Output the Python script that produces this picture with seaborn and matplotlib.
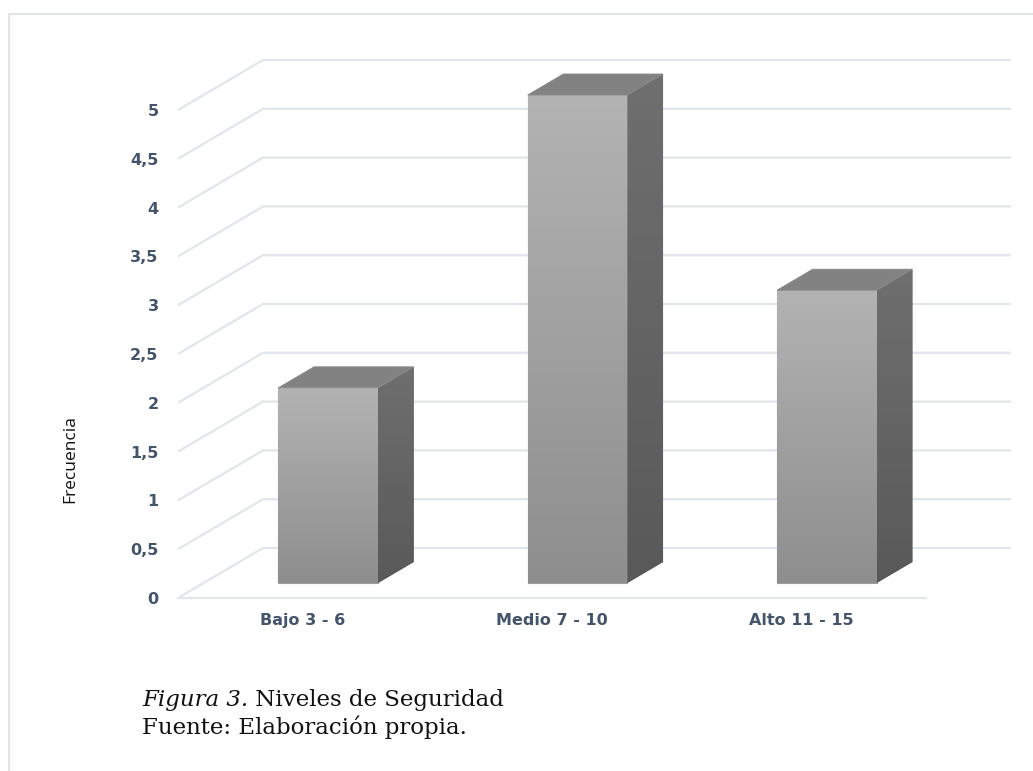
import numpy as np
import matplotlib
matplotlib.use("Agg")
import matplotlib.pyplot as plt
from matplotlib.patches import Polygon, Rectangle
from matplotlib.colors import LinearSegmentedColormap
import seaborn as sns

# Data
categories = ["Bajo 3 - 6", "Medio 7 - 10", "Alto 11 - 15"]
frequencies = [2, 5, 3]
y_ticks = [0, 0.5, 1, 1.5, 2, 2.5, 3, 3.5, 4, 4.5, 5]
y_tick_labels = ["0", "0,5", "1", "1,5", "2", "2,5", "3", "3,5", "4", "4,5", "5"]
y_label = "Frecuencia"
caption_italic = "Figura 3."
caption_rest = " Niveles de Seguridad"
caption_source = "Fuente: Elaboración propia."

sns.set_theme(style="white")
plt.rcParams["font.family"] = ["DejaVu Sans"]

W, H, DPI = 1033, 771, 100
fig = plt.figure(figsize=(W / DPI, H / DPI), dpi=DPI)
fig.patch.set_facecolor("white")

# Axes = front plane of the 3D floor; the upper headroom keeps bar tops unclipped
XLIM = (-0.5, len(categories) - 0.5)
YLIM = (0, 5.6)
unit_px = 97.6
ax = fig.add_axes([178 / W, (H - 598) / H, 748 / W, YLIM[1] * unit_px / H])
ax.set_facecolor("none")

# depth projection (pixels for full depth)
DEPTH_DX, DEPTH_DY = 85.0, 50.0
BAR_FRONT, BAR_BACK = 0.30, 0.72

bbox = ax.get_position()
px_x = bbox.width * W / (XLIM[1] - XLIM[0])
px_y = bbox.height * H / (YLIM[1] - YLIM[0])


def shift(x, y, depth):
    return x + depth * DEPTH_DX / px_x, y + depth * DEPTH_DY / px_y


grid_color = "#e1e5ec"
text_color = "#44546a"

# walls / floor gridlines
for v in y_ticks:
    xa, ya = XLIM[0], v
    xb, yb = shift(XLIM[0], v, 1.0)
    xc, yc = shift(XLIM[1], v, 1.0)
    ax.plot([xa, xb, xc], [ya, yb, yc], color=grid_color, lw=1.6,
            clip_on=False, zorder=1, solid_capstyle="butt")
ax.plot([XLIM[0], XLIM[1]], [0, 0], color=grid_color, lw=1.6,
        clip_on=False, zorder=1)

# bars (front faces) via seaborn
sns.barplot(x=categories, y=frequencies, ax=ax, width=0.4,
            color="#a0a0a0", saturation=1, zorder=3)

grad = np.linspace(0, 1, 256).reshape(-1, 1)
front_cmap = LinearSegmentedColormap.from_list("front", ["#8e8e8e", "#b3b3b3"])
side_cmap = LinearSegmentedColormap.from_list("side", ["#595959", "#6f6f6f"])

for patch in list(ax.patches):
    x0 = patch.get_x()
    w = patch.get_width()
    h = patch.get_height()
    nx, ny = shift(x0, 0, BAR_FRONT)
    patch.set_x(nx)
    patch.set_y(ny)
    patch.set_clip_on(False)
    patch.set_edgecolor("#9c9c9c")
    patch.set_linewidth(0.8)

    im = ax.imshow(grad, cmap=front_cmap, aspect="auto", origin="lower",
                   extent=(nx, nx + w, ny, ny + h), zorder=3.5,
                   interpolation="bilinear")
    im.set_clip_path(patch)

    # side face
    s = [shift(x0 + w, 0, BAR_FRONT), shift(x0 + w, 0, BAR_BACK),
         shift(x0 + w, h, BAR_BACK), shift(x0 + w, h, BAR_FRONT)]
    side = Polygon(s, closed=True, facecolor="#666666", edgecolor="none",
                   clip_on=False, zorder=3)
    ax.add_patch(side)
    sx = [p[0] for p in s]
    sy = [p[1] for p in s]
    im2 = ax.imshow(grad, cmap=side_cmap, aspect="auto", origin="lower",
                    extent=(min(sx), max(sx), min(sy), max(sy)), zorder=3.5,
                    interpolation="bilinear")
    im2.set_clip_path(side)

    # top face
    t = [shift(x0, h, BAR_FRONT), shift(x0 + w, h, BAR_FRONT),
         shift(x0 + w, h, BAR_BACK), shift(x0, h, BAR_BACK)]
    ax.add_patch(Polygon(t, closed=True, facecolor="#828282",
                         edgecolor="#8a8a8a", lw=0.6, clip_on=False, zorder=4))

ax.set_autoscale_on(False)
ax.set_xlim(*XLIM)
ax.set_ylim(*YLIM)
for sp in ax.spines.values():
    sp.set_visible(False)
ax.grid(False)

ax.set_yticks(y_ticks)
ax.set_yticklabels(y_tick_labels)
ax.set_xticks(range(len(categories)))
ax.set_xticklabels(categories)
ax.tick_params(axis="y", length=0, pad=14, labelsize=11.5, labelcolor=text_color)
ax.tick_params(axis="x", length=0, pad=11, labelsize=11.5, labelcolor=text_color)
for lbl in ax.get_yticklabels() + ax.get_xticklabels():
    lbl.set_fontweight("bold")
ax.set_xlabel("")
ax.set_ylabel("")

fig.text(70 / W, 1 - 459 / H, y_label, rotation=90, ha="center", va="center",
         fontsize=12.5, color="#111111", family=["Open Sans", "DejaVu Sans"])

# outer frame
fig.add_artist(Rectangle((9 / W, -0.05), 1.1, 1 - 14 / H + 0.05,
                         transform=fig.transFigure, facecolor="none",
                         edgecolor="#dfe3ea", lw=1.5))

# caption
serif = ["DejaVu Serif"]
t1 = fig.text(142 / W, 1 - 706 / H, caption_italic, fontsize=16.5,
              family=serif, style="italic", color="#111111", va="baseline")
ax.annotate(caption_rest, xy=(1, 0), xycoords=t1, va="bottom", ha="left",
            fontsize=16.5, family=serif, color="#111111", annotation_clip=False)
fig.text(142 / W, 1 - 734 / H, caption_source, fontsize=16.5, family=serif,
         color="#111111", va="baseline")

fig.savefig("out.png", dpi=DPI)
